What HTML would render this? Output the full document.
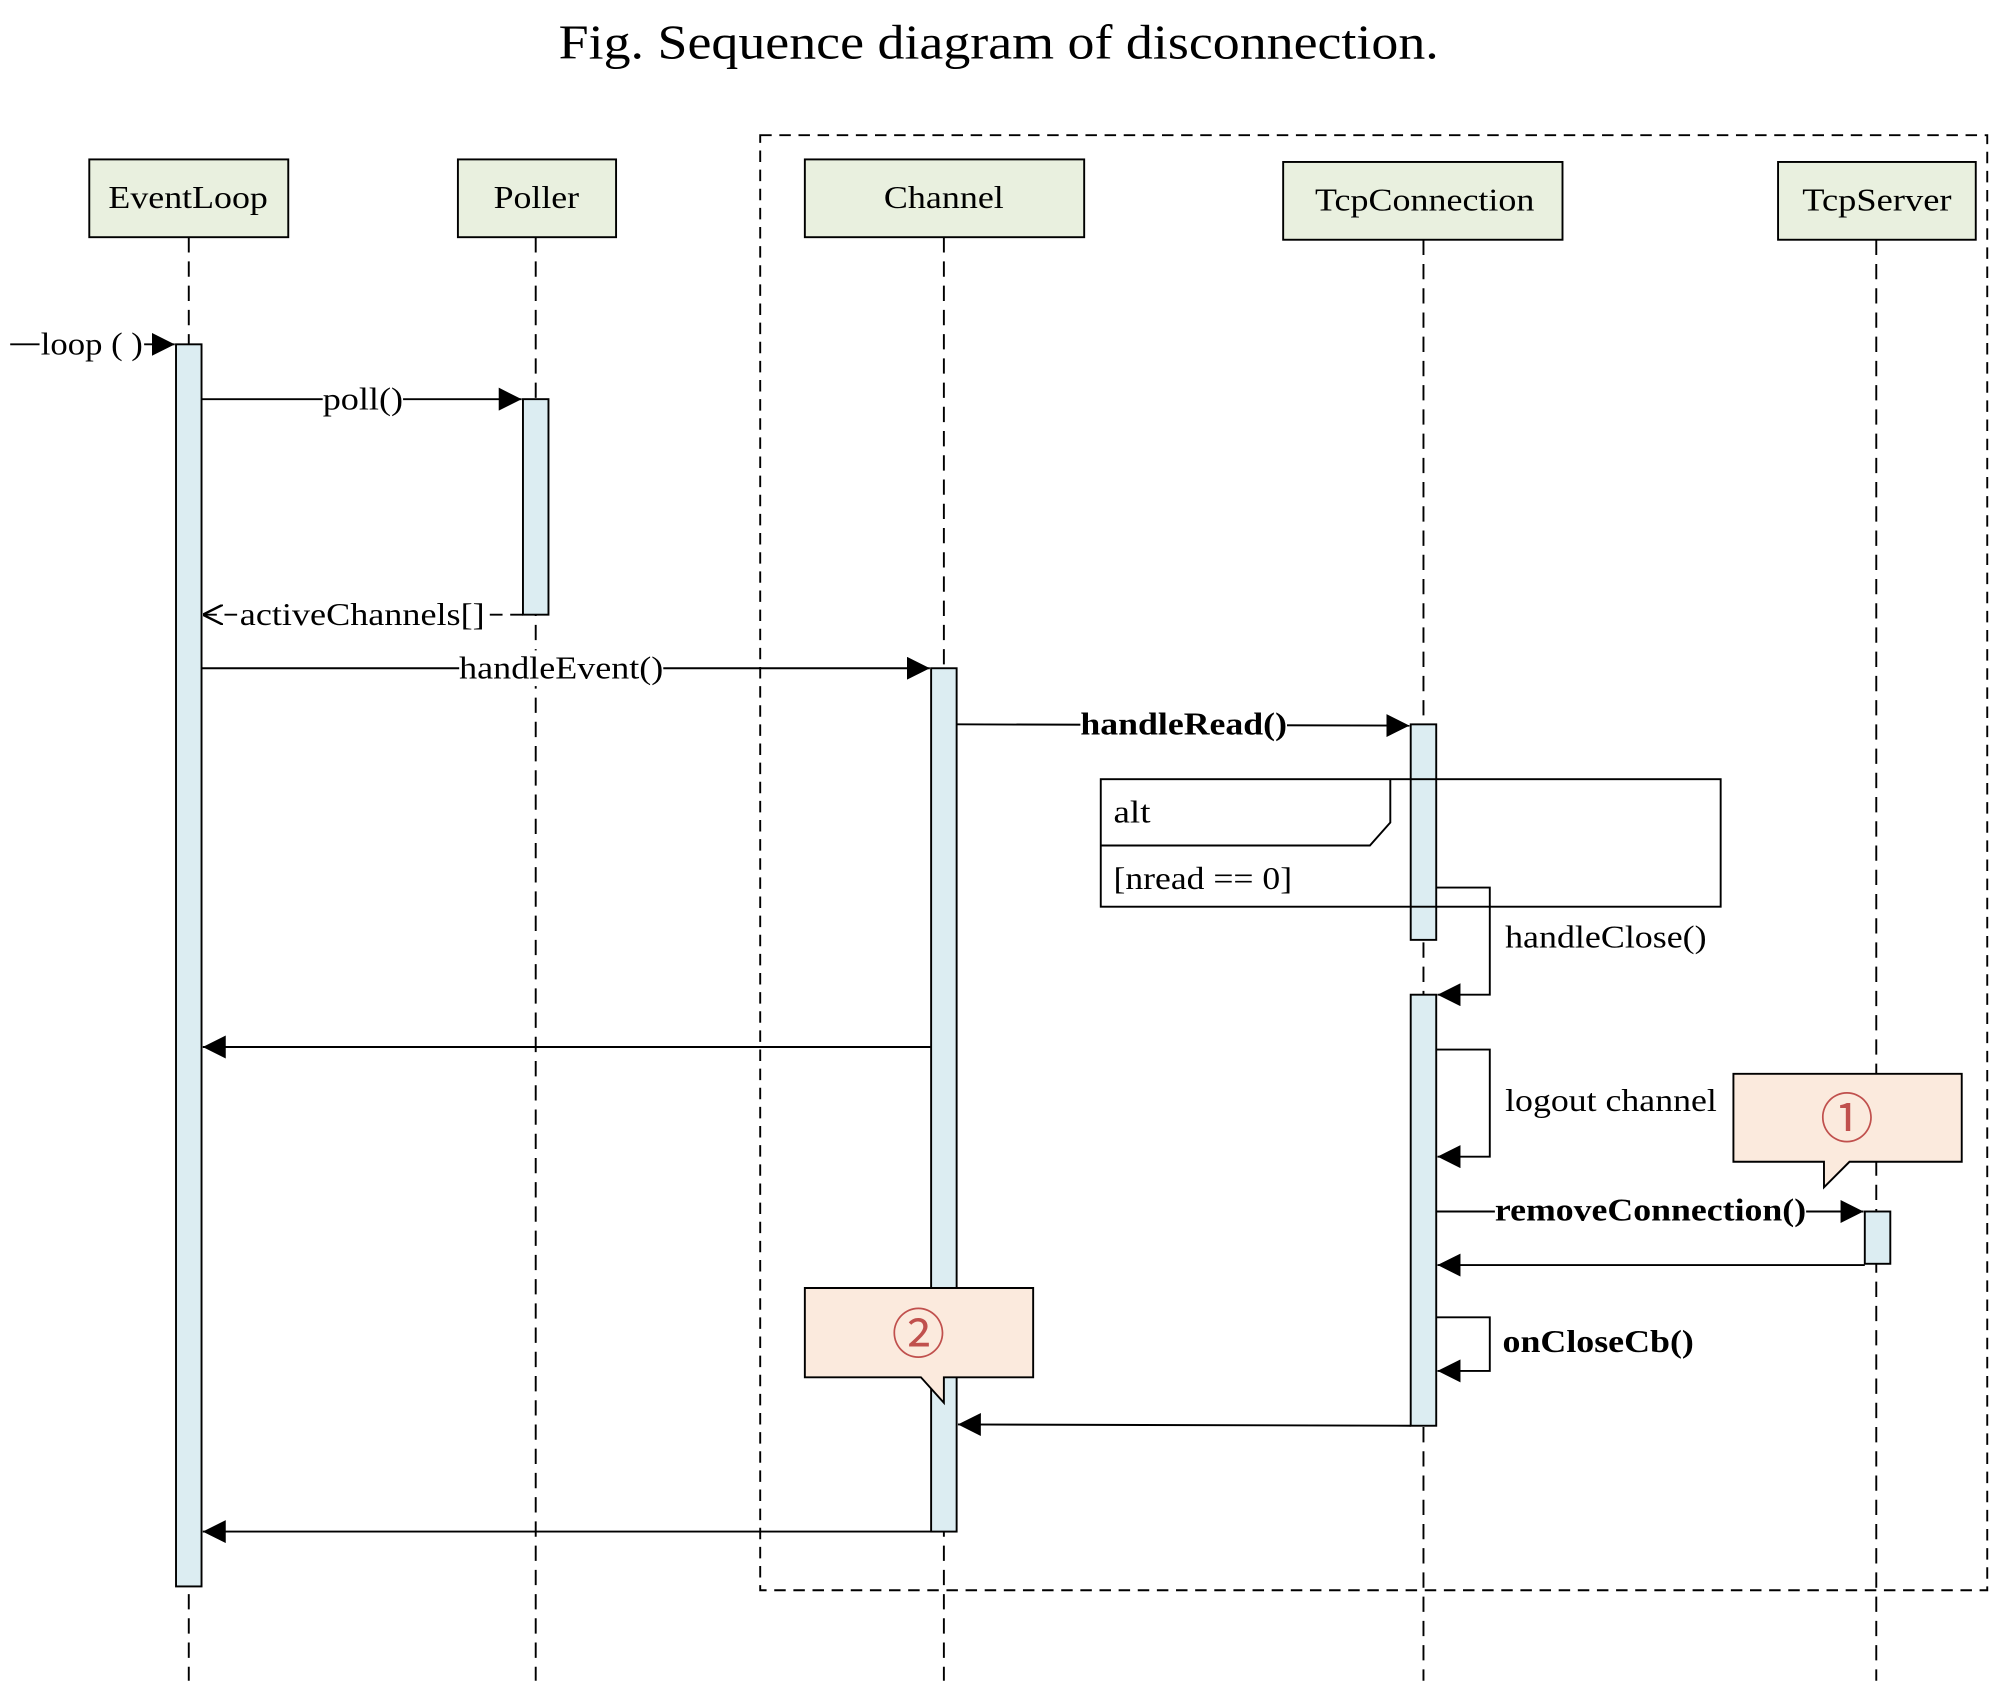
<!DOCTYPE html>
<html><head><meta charset="utf-8"><style>html,body{margin:0;padding:0;background:#fff}svg{display:block}</style></head>
<body>
<svg width="2000" height="1691" viewBox="0 0 1568 1326" preserveAspectRatio="none" xmlns="http://www.w3.org/2000/svg" font-family="Liberation Serif, serif" font-size="25">
<defs>
<marker id="f" viewBox="0 0 10 10" refX="10" refY="5" markerWidth="18" markerHeight="18" markerUnits="userSpaceOnUse" orient="auto"><path d="M0,0L10,5L0,10z" fill="#000"/></marker>
<marker id="o" viewBox="0 0 10 10" refX="10" refY="5" markerWidth="16" markerHeight="16" markerUnits="userSpaceOnUse" orient="auto"><path d="M0,0L10,5L0,10" fill="none" stroke="#000" stroke-width="1.2"/></marker>
</defs>
<rect width="1568" height="1326" fill="#fff"/>
<text x="438" y="46" font-size="38" textLength="690" lengthAdjust="spacingAndGlyphs">Fig. Sequence diagram of disconnection.</text>
<rect x="596" y="106" width="962" height="1141" fill="none" stroke="#000" stroke-width="1.5" stroke-dasharray="9,6"/>
<g stroke="#000" stroke-width="1.5" stroke-dasharray="12,7">
<line x1="148" y1="186" x2="148" y2="1318"/><line x1="420" y1="186" x2="420" y2="1318"/><line x1="740" y1="186" x2="740" y2="1318"/><line x1="1116" y1="188" x2="1116" y2="1318"/><line x1="1471" y1="188" x2="1471" y2="1318"/>
</g>
<g fill="#e9f0df" stroke="#000" stroke-width="1.5">
<rect x="70" y="125" width="156" height="61"/><rect x="359" y="125" width="124" height="61"/><rect x="631" y="125" width="219" height="61"/><rect x="1006" y="127" width="219" height="61"/><rect x="1394" y="127" width="155" height="61"/>
</g>
<g lengthAdjust="spacingAndGlyphs">
<text x="85" y="163" textLength="125" lengthAdjust="spacingAndGlyphs">EventLoop</text>
<text x="387" y="163" textLength="67" lengthAdjust="spacingAndGlyphs">Poller</text>
<text x="693" y="163" textLength="94" lengthAdjust="spacingAndGlyphs">Channel</text>
<text x="1031" y="165" textLength="172" lengthAdjust="spacingAndGlyphs">TcpConnection</text>
<text x="1413" y="165" textLength="117" lengthAdjust="spacingAndGlyphs">TcpServer</text>
</g>
<g fill="#dcedf2" stroke="#000" stroke-width="1.5">
<rect x="138" y="270" width="20" height="974"/><rect x="410" y="313" width="20" height="169"/><rect x="730" y="524" width="20" height="677"/><rect x="1106" y="568" width="20" height="169"/><rect x="1106" y="780" width="20" height="338"/><rect x="1462" y="950" width="20" height="41"/>
</g>
<g stroke="#000" stroke-width="1.5" fill="none">
<line x1="8" y1="270" x2="137" y2="270" marker-end="url(#f)"/>
<line x1="158" y1="313" x2="409" y2="313" marker-end="url(#f)"/>
<line x1="410" y1="482" x2="159" y2="482" stroke-dasharray="10,6" marker-end="url(#o)"/>
<line x1="158" y1="524" x2="729" y2="524" marker-end="url(#f)"/>
<line x1="750" y1="568" x2="1105" y2="569" marker-end="url(#f)"/>
<rect x="863" y="611" width="486" height="100"/>
<path d="M863,663H1074L1090,645V611"/>
<path d="M1126,696H1168V780H1127" marker-end="url(#f)"/>
<line x1="730" y1="821" x2="159" y2="821" marker-end="url(#f)"/>
<path d="M1126,823H1168V907H1127" marker-end="url(#f)"/>
<line x1="1126" y1="950" x2="1461" y2="950" marker-end="url(#f)"/>
<line x1="1462" y1="992" x2="1127" y2="992" marker-end="url(#f)"/>
<path d="M1126,1033H1168V1075H1127" marker-end="url(#f)"/>
<line x1="1106" y1="1118" x2="751" y2="1117" marker-end="url(#f)"/>
<line x1="730" y1="1201" x2="159" y2="1201" marker-end="url(#f)"/>
</g>
<g fill="#fff">
<rect x="31" y="256" width="82" height="28"/><rect x="253" y="300" width="63" height="28"/><rect x="186" y="468" width="196" height="28"/><rect x="360" y="510" width="160" height="28"/><rect x="847" y="554" width="162" height="28"/><rect x="1172" y="936" width="244" height="28"/>
</g>
<text x="32" y="278" textLength="80" lengthAdjust="spacingAndGlyphs">loop ( )</text>
<text x="253" y="321" textLength="63" lengthAdjust="spacingAndGlyphs">poll()</text>
<text x="188" y="490" textLength="192" lengthAdjust="spacingAndGlyphs">activeChannels[]</text>
<text x="360" y="532" textLength="160" lengthAdjust="spacingAndGlyphs">handleEvent()</text>
<text x="847" y="576" font-weight="bold" textLength="162" lengthAdjust="spacingAndGlyphs">handleRead()</text>
<text x="873" y="645" textLength="29" lengthAdjust="spacingAndGlyphs">alt</text>
<text x="873" y="697" textLength="140" lengthAdjust="spacingAndGlyphs">[nread == 0]</text>
<text x="1180" y="743" textLength="158" lengthAdjust="spacingAndGlyphs">handleClose()</text>
<text x="1180" y="871" textLength="166" lengthAdjust="spacingAndGlyphs">logout channel</text>
<text x="1172" y="957" font-weight="bold" textLength="244" lengthAdjust="spacingAndGlyphs">removeConnection()</text>
<text x="1178" y="1060" font-weight="bold" textLength="150" lengthAdjust="spacingAndGlyphs">onCloseCb()</text>
<path d="M1359,842H1538V911H1450L1430,931V911H1359Z" fill="#fbeadd" stroke="#000" stroke-width="1.5"/>
<path d="M631,1010H810V1080H740V1100L722,1080H631Z" fill="#fbeadd" stroke="#000" stroke-width="1.5"/>
<text x="1448" y="892" font-size="42" fill="#c0504d" text-anchor="middle" font-family="Noto Sans CJK SC, sans-serif">①</text>
<text x="720" y="1061" font-size="42" fill="#c0504d" text-anchor="middle" font-family="Noto Sans CJK SC, sans-serif">②</text>
</svg>
</body></html>
